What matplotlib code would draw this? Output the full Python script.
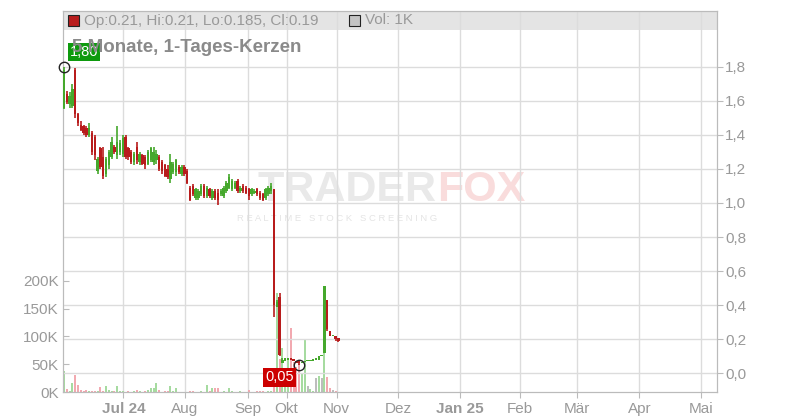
import numpy as np
import matplotlib.pyplot as plt
from matplotlib.patches import Rectangle

plt.rcParams['font.family'] = ['Liberation Sans', 'DejaVu Sans']

# daily candles, 5 months (price in EUR)
opens = [1.56, 1.64, 1.58, 1.57, 1.78, 1.52, 1.46, 1.45, 1.44, 1.40,
         1.41, 1.39, 1.19, 1.32, 1.27, 1.17, 1.22, 1.27, 1.33, 1.28,
         1.30, 1.29, 1.39, 1.32, 1.30, 1.24, 1.33, 1.24, 1.28, 1.27,
         1.23, 1.25, 1.24, 1.25, 1.27, 1.24, 1.22, 1.20, 1.14, 1.18,
         1.18, 1.21, 1.17, 1.21, 1.19, 1.09, 1.10, 1.03, 1.03, 1.05,
         1.10, 1.04, 1.08, 1.03, 1.07, 1.06, 1.05, 1.04, 1.07, 1.09,
         1.08, 1.09, 1.13, 1.07, 1.10, 1.09, 1.08, 1.05, 1.06, 1.08,
         1.06, 1.05, 1.03, 1.05, 1.07, 1.08, 0.39, 0.45, 0.06, 0.07,
         0.08, 0.085, 0.08, 0.07, 0.07, 0.06, 0.065, 0.07, 0.07, 0.075,
         0.08, 0.08, 0.10, 0.12, 0.43, 0.25, 0.22, 0.22, 0.21]
highs = [1.80, 1.66, 1.65, 1.70, 1.79, 1.53, 1.48, 1.46, 1.45, 1.47,
         1.42, 1.40, 1.27, 1.33, 1.33, 1.27, 1.31, 1.39, 1.34, 1.45,
         1.37, 1.40, 1.40, 1.33, 1.31, 1.30, 1.36, 1.30, 1.29, 1.28,
         1.31, 1.33, 1.33, 1.31, 1.28, 1.25, 1.23, 1.22, 1.29, 1.24,
         1.26, 1.22, 1.22, 1.22, 1.20, 1.10, 1.11, 1.09, 1.08, 1.11,
         1.11, 1.10, 1.09, 1.08, 1.08, 1.08, 1.08, 1.10, 1.13, 1.17,
         1.14, 1.13, 1.14, 1.10, 1.11, 1.10, 1.09, 1.09, 1.08, 1.09,
         1.07, 1.06, 1.09, 1.10, 1.12, 1.08, 0.43, 0.47, 0.09, 0.09,
         0.09, 0.085, 0.08, 0.07, 0.07, 0.065, 0.07, 0.07, 0.075, 0.08,
         0.08, 0.10, 0.10, 0.51, 0.43, 0.25, 0.22, 0.22, 0.21]
lows = [1.55, 1.58, 1.56, 1.56, 1.50, 1.45, 1.42, 1.40, 1.39, 1.39,
        1.28, 1.25, 1.17, 1.20, 1.14, 1.15, 1.20, 1.26, 1.29, 1.26,
        1.28, 1.27, 1.26, 1.25, 1.23, 1.22, 1.23, 1.22, 1.22, 1.20,
        1.22, 1.24, 1.22, 1.23, 1.19, 1.17, 1.15, 1.14, 1.12, 1.17,
        1.16, 1.17, 1.16, 1.16, 1.11, 1.01, 1.04, 1.02, 1.02, 1.04,
        1.03, 1.03, 1.03, 1.02, 1.02, 0.99, 1.04, 1.03, 1.06, 1.08,
        1.07, 1.08, 1.06, 1.06, 1.06, 1.05, 1.02, 1.04, 1.05, 1.04,
        1.02, 1.01, 1.02, 1.04, 1.05, 0.33, 0.39, 0.10, 0.06, 0.07,
        0.08, 0.08, 0.075, 0.06, 0.05, 0.06, 0.065, 0.07, 0.07, 0.075,
        0.08, 0.08, 0.10, 0.12, 0.25, 0.22, 0.22, 0.19, 0.185]
closes = [1.78, 1.59, 1.63, 1.67, 1.52, 1.47, 1.43, 1.41, 1.40, 1.44,
          1.30, 1.28, 1.26, 1.21, 1.16, 1.26, 1.30, 1.36, 1.30, 1.36,
          1.35, 1.38, 1.27, 1.27, 1.24, 1.29, 1.25, 1.29, 1.23, 1.22,
          1.30, 1.32, 1.30, 1.29, 1.20, 1.19, 1.16, 1.15, 1.24, 1.23,
          1.25, 1.18, 1.21, 1.17, 1.12, 1.02, 1.05, 1.08, 1.07, 1.10,
          1.04, 1.09, 1.04, 1.07, 1.03, 1.02, 1.07, 1.09, 1.12, 1.15,
          1.13, 1.12, 1.07, 1.09, 1.07, 1.06, 1.04, 1.08, 1.07, 1.05,
          1.03, 1.02, 1.08, 1.09, 1.10, 0.40, 0.42, 0.11, 0.08, 0.09,
          0.085, 0.08, 0.075, 0.06, 0.06, 0.065, 0.07, 0.07, 0.075, 0.08,
          0.08, 0.10, 0.10, 0.51, 0.26, 0.22, 0.22, 0.20, 0.19]
# volume in thousand shares
volumes = [38, 6, 3, 17, 31, 13, 5, 3, 5, 2,
           3, 3, 3, 9, 2, 11, 5, 3, 2, 11,
           2, 2, 0, 3, 0, 3, 5, 3, 0, 3,
           5, 7, 7, 17, 5, 0, 3, 3, 11, 2,
           7, 0, 0, 0, 0, 3, 3, 0, 0, 3,
           0, 13, 3, 7, 7, 7, 0, 3, 0, 7,
           3, 0, 0, 3, 0, 0, 5, 0, 0, 3,
           2, 3, 0, 2, 3, 20, 177, 60, 80, 40,
           58, 116, 55, 45, 50, 35, 95, 12, 6, 3,
           25, 30, 25, 70, 28, 7, 4, 3, 1]

month_pos = [21.2, 43.2, 65.6, 79.5, 97.4, 119.3, 141.4, 162.9, 183.3, 205.5, 227.6]
month_labels = ['Jul 24', 'Aug', 'Sep', 'Okt', 'Nov', 'Dez', 'Jan 25', 'Feb', 'Mär', 'Apr', 'Mai']
price_ticks = [0.0, 0.2, 0.4, 0.6, 0.8, 1.0, 1.2, 1.4, 1.6, 1.8]
vol_ticks = [0, 50, 100, 150, 200]

GREEN = '#45a82c'
RED = '#b81c1c'
GRID = '#dcdcdc'
TXT = '#999999'

o = np.array(opens)
h = np.array(highs)
l = np.array(lows)
c = np.array(closes)
v = np.array(volumes)
x = np.arange(len(c))

up = c >= o
cols = np.where(up, GREEN, RED)
vcols = np.where(c > o, '#a6dba0', np.where(c < o, '#f2a9b0', '#bdbdbd'))

fig = plt.figure(figsize=(8, 4.2), dpi=100)
ax_vol = fig.add_axes([63 / 800, 27.7 / 420, 653.7 / 800, 381.3 / 420])
ax = ax_vol.twinx()

# header band + watermark behind everything
ax_vol.add_patch(Rectangle((0, 0.95), 1, 0.05, transform=ax_vol.transAxes,
                           color='#e4e4e4', zorder=0.3, lw=0))
ax_vol.text(0.572, 0.531, 'TRADER', transform=ax_vol.transAxes, ha='right', va='center',
            fontsize=31, fontweight='bold', color='#e9e9e9', zorder=0.2)
ax_vol.text(0.572, 0.531, 'FOX', transform=ax_vol.transAxes, ha='left', va='center',
            fontsize=31, fontweight='bold', color='#f9dcdc', zorder=0.2)
ax_vol.text(0.42, 0.455, 'R E A L T I M E   S T O C K   S C R E E N I N G',
            transform=ax_vol.transAxes, ha='center', va='center',
            fontsize=6.8, color='#e4e4e4', zorder=0.2)

# volume
ax_vol.bar(x, v, width=0.75, color=vcols, zorder=1)
ax_vol.set_ylim(0, 683)
ax_vol.set_xlim(-0.36, 233.1)
ax_vol.set_yticks(vol_ticks)
ax_vol.set_yticklabels([f'{t}K' for t in vol_ticks])
ax_vol.set_xticks(month_pos)
ax_vol.set_xticklabels(month_labels)
for lab in ax_vol.get_xticklabels():
    if ' ' in lab.get_text():
        lab.set_fontweight('bold')
ax_vol.set_axisbelow(True)
ax_vol.grid(axis='x', color=GRID, lw=1)
ax_vol.tick_params(axis='x', colors='#bbbbbb', labelcolor=TXT, labelsize=11, length=4, pad=3)
ax_vol.tick_params(axis='y', colors='#bbbbbb', labelcolor=TXT, labelsize=11,
                   length=4, direction='in', pad=3)

# candles
ax.vlines(x, l, h, colors=cols, lw=1.2, zorder=3)
body = np.maximum(np.abs(c - o), 0.007)
ax.bar(x, body, bottom=np.minimum(o, c), width=0.8, color=cols, zorder=3)
ax.set_ylim(-0.1115, 2.127)
ax.set_yticks(price_ticks)
ax.set_yticklabels([f'{t:.1f}'.replace('.', ',') for t in price_ticks])
ax.set_axisbelow(True)
ax.grid(axis='y', color=GRID, lw=1)
ax.tick_params(axis='y', colors='#bbbbbb', labelcolor=TXT, labelsize=11, length=4, pad=2)

for a in (ax, ax_vol):
    for s in a.spines.values():
        s.set_color('#bbbbbb')

# high / low markers
ih = int(np.argmax(h))
il = int(np.argmin(l))
ax.plot(x[ih], h[ih], 'o', mfc='none', mec='#222222', ms=7.5, mew=1, zorder=5, clip_on=False)
ax.plot(x[il], l[il], 'o', mfc='none', mec='#222222', ms=7.5, mew=1, zorder=5, clip_on=False)
ax.annotate(f'{h[ih]:.2f}'.replace('.', ','), xy=(x[ih], h[ih]), xytext=(14.4, 10.4),
            textcoords='offset points', ha='center', va='center', color='white', fontsize=10.5,
            bbox=dict(boxstyle='square,pad=0.15', fc='#0e9a0e', ec='none'), zorder=6)
ax.annotate(f'{l[il]:.2f}'.replace('.', ','), xy=(x[il], l[il]), xytext=(-14, -9.1),
            textcoords='offset points', ha='center', va='center', color='white', fontsize=10.5,
            bbox=dict(boxstyle='square,pad=0.15', fc='#cc0000', ec='none'), zorder=6)

# header legend + title
fig.patches.append(Rectangle((68 / 800, 1 - 26 / 420), 11 / 800, 11 / 420, transform=fig.transFigure,
                             fc=RED, ec='#222222', lw=0.8))
fig.text(84 / 800, 1 - 20.5 / 420, f'Op:{opens[-1]}, Hi:{highs[-1]}, Lo:{lows[-1]}, Cl:{closes[-1]}',
         va='center', ha='left', fontsize=11, color=TXT)
fig.patches.append(Rectangle((349 / 800, 1 - 26 / 420), 11 / 800, 11 / 420, transform=fig.transFigure,
                             fc='#c4c4c4', ec='#222222', lw=0.8))
fig.text(365 / 800, 1 - 20.5 / 420, f'Vol: {volumes[-1]}K', va='center', ha='left',
         fontsize=11, color=TXT)
fig.text(72 / 800, 1 - 47 / 420, '5 Monate, 1-Tages-Kerzen', va='center', ha='left',
         fontsize=13.5, fontweight='bold', color='#8a8a8a')

fig.savefig('out.png', dpi=100)
